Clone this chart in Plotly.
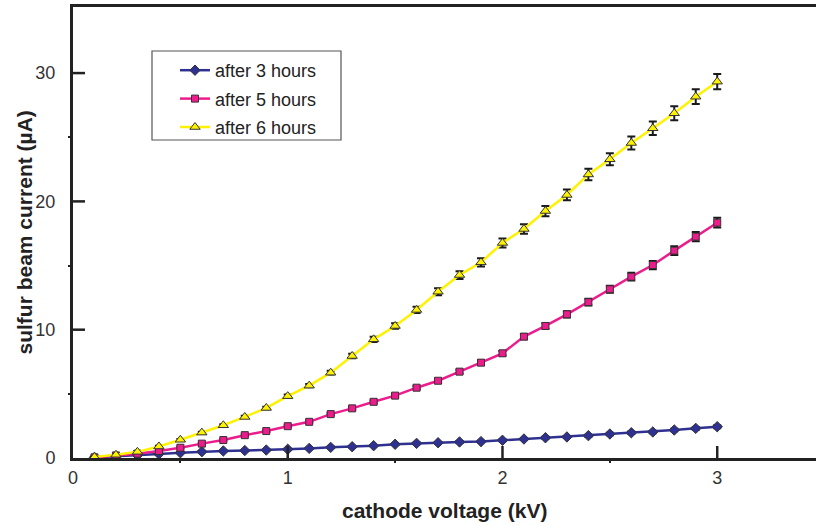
import plotly.graph_objects as go

voltage = [0.1, 0.2, 0.3, 0.4, 0.5, 0.6, 0.7, 0.8, 0.9, 1.0,
           1.1, 1.2, 1.3, 1.4, 1.5, 1.6, 1.7, 1.8, 1.9, 2.0,
           2.1, 2.2, 2.3, 2.4, 2.5, 2.6, 2.7, 2.8, 2.9, 3.0]

after3 = [0.05, 0.12, 0.22, 0.31, 0.41, 0.49, 0.55, 0.58, 0.62, 0.68,
          0.75, 0.83, 0.88, 0.96, 1.07, 1.14, 1.19, 1.25, 1.28, 1.38,
          1.48, 1.58, 1.64, 1.74, 1.87, 1.97, 2.03, 2.18, 2.31, 2.44]
after5 = [0.05, 0.2, 0.34, 0.55, 0.8, 1.12, 1.4, 1.78, 2.1, 2.48,
          2.82, 3.42, 3.87, 4.38, 4.86, 5.48, 6.02, 6.73, 7.43, 8.16,
          9.46, 10.29, 11.2, 12.15, 13.15, 14.13, 15.04, 16.16, 17.25, 18.34]
after6 = [0.08, 0.25, 0.48, 0.9, 1.42, 1.98, 2.55, 3.2, 3.9, 4.82,
          5.64, 6.65, 7.95, 9.25, 10.29, 11.54, 12.96, 14.26, 15.25, 16.76,
          17.85, 19.25, 20.5, 22.1, 23.28, 24.55, 25.7, 26.87, 28.16, 29.33]

err3 = [0.02, 0.02, 0.02, 0.03, 0.03, 0.03, 0.03, 0.03, 0.04, 0.04,
        0.04, 0.05, 0.05, 0.05, 0.05, 0.06, 0.06, 0.06, 0.06, 0.07,
        0.07, 0.08, 0.08, 0.08, 0.09, 0.09, 0.1, 0.1, 0.11, 0.12]
err5 = [0.02, 0.02, 0.03, 0.04, 0.05, 0.05, 0.06, 0.06, 0.07, 0.07,
        0.08, 0.09, 0.1, 0.11, 0.12, 0.13, 0.14, 0.15, 0.16, 0.17,
        0.2, 0.22, 0.24, 0.26, 0.28, 0.3, 0.32, 0.34, 0.36, 0.38]
err6 = [0.02, 0.03, 0.04, 0.05, 0.06, 0.07, 0.08, 0.09, 0.1, 0.12,
        0.13, 0.15, 0.18, 0.2, 0.22, 0.24, 0.27, 0.3, 0.32, 0.35,
        0.37, 0.4, 0.42, 0.45, 0.47, 0.5, 0.52, 0.55, 0.57, 0.6]

x_ticks = [0, 1, 2, 3]
x_minor = [0.5, 1.5, 2.5, 3.5]
y_ticks = [0, 10, 20, 30]
y_minor = [5, 15, 25]

x_title = "cathode voltage (kV)"
y_title = "sulfur beam current (µA)"

series = [
    ("after 3 hours", after3, err3, "#2E3192", "diamond", 8),
    ("after 5 hours", after5, err5, "#EC1C8C", "square", 7),
    ("after 6 hours", after6, err6, "#FFF200", "triangle-up", 9),
]

font_family = "Liberation Sans, Arial, sans-serif"
X_RANGE = [0, 3.46]
Y_RANGE = [0, 35.15]
PLOT_W, PLOT_H = 743, 451
AXIS_COLOR = "#222222"
TICK_LEN = 12

fig = go.Figure()
for i, (name, vals, errs, color, symbol, size) in enumerate(series):
    fig.add_trace(go.Scatter(
        x=voltage, y=vals, name=name, mode="lines+markers",
        legendgroup=f"g{i}",
        line=dict(color=color, width=2.5),
        marker=dict(symbol=symbol, size=size, color=color,
                    line=dict(color="#333333", width=1)),
        error_y=dict(type="data", array=errs, visible=True,
                     color="#1a1a1a", thickness=2, width=4),
    ))

# empty helper trace so the minor-tick overlay axes get drawn
fig.add_trace(go.Scatter(x=[None], y=[None], xaxis="x2", yaxis="y2",
                         showlegend=False, hoverinfo="skip"))

# major ticks pointing into the plot area
for v in x_ticks[1:]:
    fig.add_shape(type="line", xref="x", yref="paper", x0=v, x1=v,
                  y0=0, y1=TICK_LEN / PLOT_H, line=dict(color=AXIS_COLOR, width=2.5),
                  layer="above")
for v in y_ticks[1:]:
    fig.add_shape(type="line", xref="paper", yref="y", x0=0, x1=TICK_LEN / PLOT_W,
                  y0=v, y1=v, line=dict(color=AXIS_COLOR, width=2.5),
                  layer="above")

# legend frame
fig.add_shape(type="rect", xref="paper", yref="paper",
              x0=(152 - 73) / PLOT_W, x1=(341 - 73) / PLOT_W,
              y0=1 - (140 - 7) / PLOT_H, y1=1 - (51 - 7) / PLOT_H,
              line=dict(color="#555555", width=1.2), fillcolor="rgba(0,0,0,0)",
              layer="above")

# axis titles
fig.add_annotation(text=f"<b>{x_title}</b>", xref="paper", yref="paper",
                   x=0.5, y=-(511 - 458) / PLOT_H, xanchor="center", yanchor="middle",
                   showarrow=False, font=dict(size=21, color="#222222"))
fig.add_annotation(text=f"<b>{y_title}</b>", xref="paper", yref="paper",
                   x=-(73 - 24) / PLOT_W, y=0.5, xanchor="center", yanchor="middle",
                   textangle=-90, showarrow=False, font=dict(size=21, color="#222222"))

fig.update_layout(
    width=816, height=526,
    margin=dict(l=73, r=0, t=7, b=68),
    paper_bgcolor="white", plot_bgcolor="white",
    font=dict(family=font_family, size=18, color="#333333"),
    showlegend=True,
    legend=dict(
        x=(175 - 73) / PLOT_W, y=1 - (52 - 7) / PLOT_H, xanchor="left", yanchor="top",
        borderwidth=0, bgcolor="rgba(0,0,0,0)",
        font=dict(size=18, color="#222222"),
        tracegroupgap=2,
    ),
    xaxis=dict(
        range=X_RANGE, showgrid=False, zeroline=False,
        showline=True, linewidth=3, linecolor=AXIS_COLOR, mirror=True,
        tickmode="array", tickvals=x_ticks, ticktext=[str(v) for v in x_ticks],
        ticks="", ticklabelstandoff=1, automargin=False,
    ),
    yaxis=dict(
        range=Y_RANGE, showgrid=False, zeroline=False,
        showline=True, linewidth=3, linecolor=AXIS_COLOR,
        tickmode="array", tickvals=y_ticks, ticktext=[str(v) for v in y_ticks],
        ticks="outside", ticklen=11, tickwidth=1, tickcolor="rgba(0,0,0,0)",
        automargin=False,
    ),
    xaxis2=dict(
        overlaying="x", anchor="y2", side="bottom", range=X_RANGE,
        showgrid=False, zeroline=False, showline=False,
        tickmode="array", tickvals=x_minor, showticklabels=False,
        ticks="outside", ticklen=4, tickwidth=2, tickcolor=AXIS_COLOR,
    ),
    yaxis2=dict(
        overlaying="y", anchor="x2", side="left", range=Y_RANGE,
        showgrid=False, zeroline=False, showline=False,
        tickmode="array", tickvals=y_minor, showticklabels=False,
        ticks="outside", ticklen=4, tickwidth=2, tickcolor=AXIS_COLOR,
    ),
)

fig.write_html("out.html")
